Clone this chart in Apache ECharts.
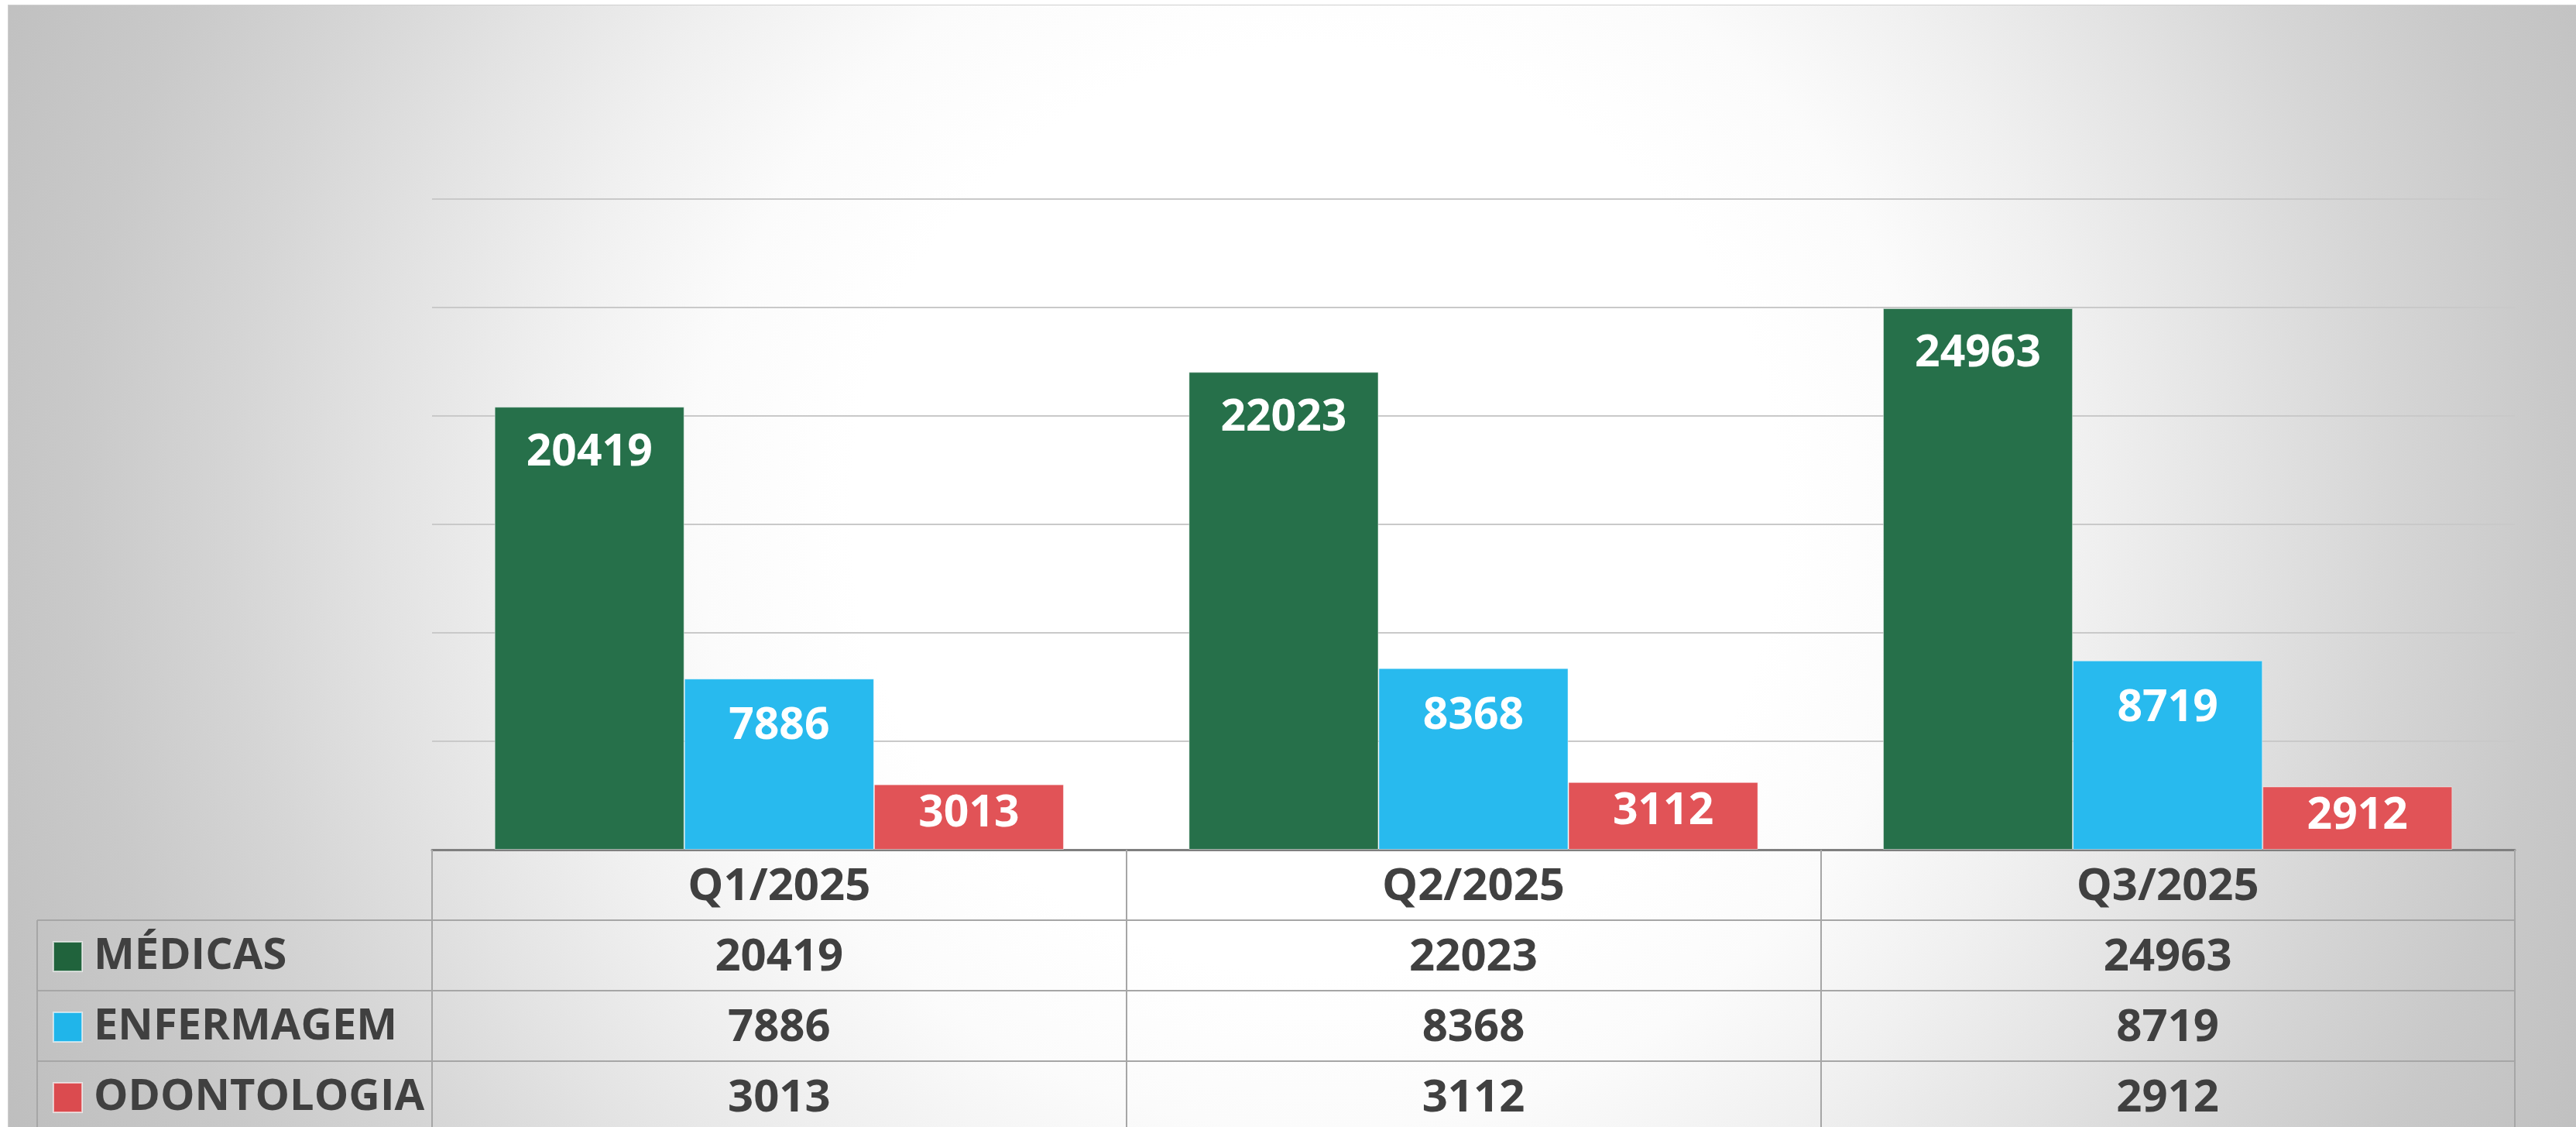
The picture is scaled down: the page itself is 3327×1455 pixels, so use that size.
<!DOCTYPE html>
<html>
<head>
<meta charset="utf-8">
<script src="https://cdn.jsdelivr.net/npm/echarts@6/dist/echarts.min.js"></script>
<style>
  html, body { margin: 0; padding: 0; background: #ffffff; width: 3327px; height: 1455px; overflow: hidden; }
  #chart { position: absolute; left: 11px; top: 7px; width: 3316px; height: 1448px; outline: 1px solid #cfcfcf; }
</style>
</head>
<body>
<div id="chart"></div>
<script>
// ---- data ----
const categories = ['Q1/2025', 'Q2/2025', 'Q3/2025'];
const seriesNames = ['MÉDICAS', 'ENFERMAGEM', 'ODONTOLOGIA'];
const medicas = [20419, 22023, 24963];
const enfermagem = [7886, 8368, 8719];
const odontologia = [3013, 3112, 2912];
const yMax = 30000;
const yInterval = 5000;

// ---- styling ----
const colors = ['#26704A', '#28BAEE', '#E15357'];
const keyColors = ['#20633C', '#20B5EA', '#DB4B4F'];
const textColor = '#404040';
const fontFamily = '"Open Sans", "Liberation Sans", sans-serif';
const fontSize = 58;
const rowH = 91;
const tableLine = '#a6a6a6';

const chart = echarts.init(document.getElementById('chart'), null, { renderer: 'canvas' });

const seriesData = [medicas, enfermagem, odontologia];

const gridLeft = 547, gridRight = 79, gridTop = 250, gridBottom = 358;
const H = 1448;
const axisY = H - gridBottom;

function labelStyle() {
  return {
    interval: 0, margin: 0, lineHeight: rowH, padding: [3, 0, 0, 0],
    fontSize: fontSize, fontWeight: 'bold', fontFamily: fontFamily, color: textColor
  };
}

const xAxes = [{
  type: 'category', data: categories, gridIndex: 0, position: 'bottom',
  axisLine: { show: true, lineStyle: { color: '#7f7f7f', width: 3 } },
  axisTick: { show: true, interval: 0, length: rowH, lineStyle: { color: tableLine, width: 2 } },
  axisLabel: labelStyle(),
  splitLine: { show: false }
}];
seriesData.forEach(function (arr, k) {
  const lbl = labelStyle();
  lbl.formatter = function (v, i) { return String(arr[i]); };
  xAxes.push({
    type: 'category', data: categories, gridIndex: 0, position: 'bottom', offset: rowH * (k + 1),
    axisLine: { show: true, lineStyle: { color: tableLine, width: 2 } },
    axisTick: { show: true, interval: 0, length: rowH, lineStyle: { color: tableLine, width: 2 } },
    axisLabel: lbl,
    splitLine: { show: false }
  });
});

const labelDist = [29, 32, 8];
const series = seriesData.map(function (arr, k) {
  return {
    name: seriesNames[k], type: 'bar', xAxisIndex: 0, yAxisIndex: 0,
    data: arr,
    barGap: '0%', barCategoryGap: '18%',
    itemStyle: { color: colors[k], borderColor: 'rgba(255,255,255,0.45)', borderWidth: 1 },
    label: {
      show: true, position: 'insideTop', distance: labelDist[k],
      color: '#ffffff', fontSize: 57, fontWeight: 'bold', fontFamily: fontFamily, lineHeight: 60
    }
  };
});

// one legend per table row so each key sits in its own row
const legends = seriesNames.map(function (name, k) {
  return {
    orient: 'vertical', left: 57, top: axisY + rowH * (k + 1) + (rowH - 60) / 2,
    padding: 0, itemWidth: 37, itemHeight: 38,
    icon: 'rect',
    data: [{ name: name, itemStyle: { color: keyColors[k], borderColor: 'rgba(255,255,255,0.6)', borderWidth: 2 } }],
    textStyle: {
      fontSize: 56, fontWeight: 'bold', fontFamily: fontFamily, color: textColor,
      lineHeight: 60, padding: [3, 0, 0, 10]
    },
    selectedMode: false
  };
});

// legend column borders of the data table
const graphics = [];
for (let k = 1; k <= 3; k++) {
  graphics.push({
    type: 'line', z: 5,
    shape: { x1: 37, y1: axisY + rowH * k, x2: gridLeft, y2: axisY + rowH * k },
    style: { stroke: tableLine, lineWidth: 2 }
  });
}
graphics.push({
  type: 'line', z: 5,
  shape: { x1: 37, y1: axisY + rowH, x2: 37, y2: H },
  style: { stroke: tableLine, lineWidth: 2 }
});

chart.setOption({
  animation: false,
  backgroundColor: {
    type: 'radial', x: 0.509, y: 0.45, r: 1.381,
    colorStops: [
      { offset: 0, color: '#ffffff' },
      { offset: 0.3, color: '#ffffff' },
      { offset: 0.4, color: '#fbfbfb' },
      { offset: 0.5, color: '#f0f0f0' },
      { offset: 0.6, color: '#e3e3e3' },
      { offset: 0.7, color: '#d5d5d5' },
      { offset: 0.8, color: '#c9c9c9' },
      { offset: 0.9, color: '#c1c1c1' },
      { offset: 1, color: '#b9b9b9' }
    ]
  },
  grid: {
    left: gridLeft, right: gridRight, top: gridTop, bottom: gridBottom,
    containLabel: false, outerBoundsMode: 'none'
  },
  legend: legends,
  xAxis: xAxes,
  yAxis: {
    type: 'value', min: 0, max: yMax, interval: yInterval,
    axisLine: { show: false }, axisTick: { show: false }, axisLabel: { show: false },
    splitLine: { show: true, lineStyle: { color: '#c9c9c9', width: 2 } }
  },
  graphic: graphics,
  series: series
});
</script>
</body>
</html>
